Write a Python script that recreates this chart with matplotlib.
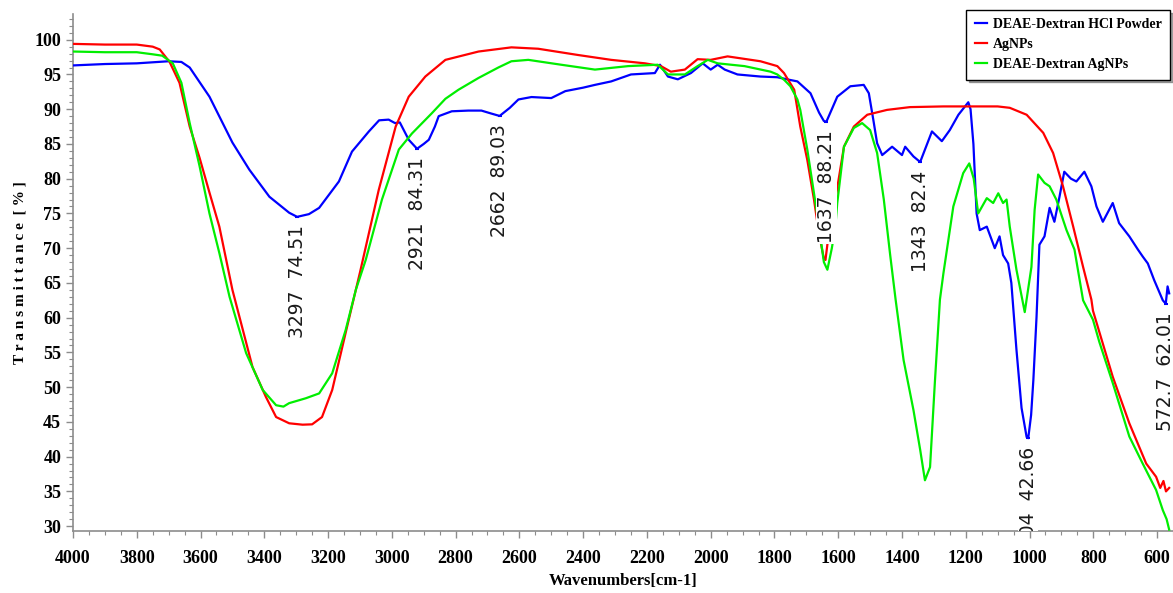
import matplotlib.pyplot as plt

# FTIR spectra (wavenumber cm-1, transmittance %)
blue_x = [4000, 3900, 3800, 3700, 3660, 3634, 3572, 3500, 3447, 3384, 3322, 3297, 3260, 3228,
          3166, 3125, 3072, 3040, 3010, 2990, 2975, 2947, 2921, 2900, 2884, 2865, 2853, 2812,
          2760, 2719, 2690, 2662, 2630, 2603, 2562, 2500, 2456, 2400, 2363, 2312, 2250, 2175,
          2159, 2134, 2103, 2062, 2025, 2000, 1978, 1956, 1916, 1844, 1791, 1750, 1728, 1687,
          1660, 1645, 1637, 1620, 1603, 1562, 1520, 1504, 1490, 1478, 1462, 1431, 1400, 1390,
          1364, 1343, 1306, 1275, 1250, 1223, 1192, 1185, 1176, 1166, 1156, 1134, 1109, 1094,
          1083, 1067, 1057, 1041, 1025, 1009, 1004, 995, 988, 978, 969, 953, 937, 922, 906,
          891, 870, 853, 828, 806, 790, 770, 739, 719, 687, 660, 645, 629, 609, 582, 572.7,
          567, 562]
blue_y = [96.3, 96.5, 96.6, 96.9, 96.8, 96.0, 91.8, 85.2, 81.3, 77.4, 75.1, 74.51, 74.9, 75.8,
          79.6, 83.9, 86.8, 88.4, 88.5, 88.0, 88.1, 85.6, 84.31, 85.0, 85.6, 87.5, 89.0, 89.7,
          89.8, 89.8, 89.4, 89.03, 90.2, 91.4, 91.75, 91.6, 92.6, 93.1, 93.5, 94.0, 95.0, 95.2,
          96.4, 94.7, 94.3, 95.2, 96.6, 95.7, 96.4, 95.7, 95.0, 94.7, 94.6, 94.2, 94.0, 92.3,
          89.5, 88.3, 88.21, 90.0, 91.8, 93.3, 93.5, 92.3, 88.5, 85.1, 83.4, 84.6, 83.4, 84.6,
          83.2, 82.4, 86.8, 85.4, 87.0, 89.2, 91.0, 90.0, 85.0, 75.0, 72.6, 73.1, 70.0, 71.7,
          69.0, 67.8, 65.0, 55.4, 47.0, 42.8, 42.66, 46.0, 51.0, 60.1, 70.5, 71.7, 75.8, 73.8,
          77.4, 81.0, 80.0, 79.6, 81.0, 78.9, 76.0, 73.8, 76.5, 73.6, 71.7, 69.8, 68.8, 67.8,
          65.4, 62.5, 62.01, 64.5, 63.5]

red_x = [4000, 3900, 3800, 3750, 3728, 3697, 3666, 3634, 3603, 3572, 3541, 3500, 3437, 3395,
         3363, 3322, 3280, 3250, 3219, 3187, 3145, 3113, 3100, 3041, 2988, 2947, 2895, 2832,
         2728, 2625, 2541, 2416, 2312, 2206, 2156, 2125, 2081, 2041, 2000, 1947, 1844, 1791,
         1770, 1738, 1719, 1697, 1676, 1660, 1645, 1640, 1630, 1609, 1582, 1551, 1509, 1447,
         1375, 1270, 1187, 1100, 1062, 1009, 957, 926, 895, 863, 832, 806, 801, 739, 687, 634,
         603, 590, 580, 572, 562]
red_y = [99.4, 99.3, 99.3, 99.0, 98.6, 96.8, 93.8, 87.5, 83.0, 78.0, 73.1, 64.0, 52.9, 48.6,
         45.7, 44.8, 44.6, 44.65, 45.7, 49.6, 57.8, 64.0, 66.5, 78.4, 87.5, 91.8, 94.7, 97.1,
         98.3, 98.9, 98.7, 97.8, 97.1, 96.6, 96.2, 95.4, 95.7, 97.2, 97.1, 97.6, 96.9, 96.2,
         95.2, 92.8, 87.5, 82.7, 77.0, 72.0, 68.5, 68.3, 72.0, 77.0, 84.6, 87.5, 89.2, 89.9,
         90.3, 90.4, 90.4, 90.4, 90.2, 89.2, 86.6, 83.7, 78.9, 73.1, 67.3, 62.6, 61.0, 51.5,
         44.8, 39.0, 37.1, 35.5, 36.5, 35.0, 35.5]

green_x = [4000, 3900, 3800, 3750, 3720, 3687, 3660, 3634, 3603, 3572, 3541, 3509, 3457, 3405,
           3363, 3340, 3322, 3270, 3228, 3187, 3145, 3113, 3082, 3031, 2978, 2937, 2875, 2832,
           2791, 2728, 2666, 2625, 2572, 2469, 2363, 2259, 2166, 2134, 2081, 2041, 2009, 1978,
           1894, 1812, 1791, 1769, 1750, 1728, 1719, 1697, 1676, 1660, 1645, 1634, 1620, 1609,
           1603, 1582, 1551, 1525, 1500, 1478, 1457, 1437, 1420, 1395, 1364, 1343, 1328, 1312,
           1297, 1281, 1270, 1239, 1208, 1189, 1175, 1161, 1134, 1114, 1098, 1083, 1072, 1062,
           1041, 1015, 994, 984, 973, 953, 937, 916, 884, 859, 832, 801, 781, 739, 687, 645,
           603, 582, 570, 562]
green_y = [98.3, 98.2, 98.2, 97.9, 97.7, 96.6, 93.8, 88.0, 81.8, 75.0, 69.3, 63.0, 54.9, 49.6,
           47.4, 47.2, 47.7, 48.4, 49.1, 52.0, 58.2, 64.0, 68.3, 77.0, 84.2, 86.5, 89.4, 91.5,
           92.8, 94.5, 96.0, 96.9, 97.1, 96.4, 95.7, 96.2, 96.4, 95.0, 95.0, 96.2, 97.1, 96.6,
           96.2, 95.4, 95.0, 94.2, 93.3, 91.4, 89.9, 84.2, 77.9, 73.0, 68.0, 66.9, 70.0, 73.1,
           76.5, 84.6, 87.3, 88.0, 87.0, 83.7, 77.0, 69.0, 62.6, 53.9, 46.7, 41.0, 36.6, 38.5,
           50.6, 62.6, 66.4, 76.0, 80.8, 82.2, 80.0, 75.0, 77.2, 76.5, 77.9, 76.5, 77.0, 73.1,
           66.9, 60.8, 67.3, 75.5, 80.6, 79.4, 78.9, 77.0, 72.6, 69.8, 62.5, 59.7, 56.5, 50.6,
           42.9, 39.0, 35.2, 32.3, 31.0, 29.5]

# labelled peaks of the DEAE-Dextran HCl powder spectrum
peak_x = [3297, 2921, 2662, 1637, 1343, 1004, 572.7]
peak_y = [74.51, 84.31, 89.03, 88.21, 82.4, 42.66, 62.01]

serif = 'Liberation Serif'

fig = plt.figure(figsize=(11.73, 5.93), dpi=100)
ax = fig.add_axes([73 / 1173, 62 / 593, 1100 / 1173, 517 / 593])

ax.plot(blue_x, blue_y, color='#0000ff', lw=1.6, label='DEAE-Dextran HCl Powder', zorder=3)
ax.plot(red_x, red_y, color='#ff0000', lw=1.6, label='AgNPs', zorder=3)
ax.plot(green_x, green_y, color='#00ee00', lw=1.6, label='DEAE-Dextran AgNPs', zorder=3)

# peak labels: small blue dash under the peak, rotated text with white background
ax.plot(peak_x, peak_y, linestyle='none', marker='_', color='#0000ff', ms=3, mew=1.5, zorder=4)
for px, py in zip(peak_x, peak_y):
    txt = ax.annotate(f'{px:g}  {py:g}', xy=(px, py), xytext=(0, -6),
                      textcoords='offset points', rotation=90, ha='center', va='top',
                      fontsize=13.5, family='DejaVu Sans', color='#1a1a1a',
                      annotation_clip=False, zorder=5,
                      bbox=dict(facecolor='white', edgecolor='none', pad=0.5))
    txt.set_clip_on(True)
    txt.set_clip_box(ax.bbox)

ax.set_xlim(4000, 562.5)
ax.set_ylim(29.3, 103.7)
ax.set_xticks(range(4000, 500, -200))
ax.set_xticks(range(4000, 500, -50), minor=True)
ax.set_yticks(range(30, 101, 5))
ax.set_yticks(range(30, 104), minor=True)

for side in ['top', 'right']:
    ax.spines[side].set_visible(False)
for side in ['left', 'bottom']:
    ax.spines[side].set_color('#8c8c8c')
    ax.spines[side].set_linewidth(1.2)
ax.tick_params(which='major', length=5, color='#8c8c8c', width=1)
ax.tick_params(which='minor', length=3, color='#8c8c8c', width=0.8)
ax.tick_params(axis='x', pad=9)
for lab in ax.get_xticklabels() + ax.get_yticklabels():
    lab.set_fontfamily(serif)
    lab.set_fontweight('bold')
    lab.set_fontsize(13)

ax.set_xlabel('Wavenumbers[cm-1]', family=serif, fontweight='bold', fontsize=12, labelpad=4)
ax.set_ylabel('T r a n s m i t t a n c e  [ % ]', family=serif, fontweight='bold',
              fontsize=11, labelpad=6)

leg = ax.legend(loc='upper right', bbox_to_anchor=(1170 / 1173, 1 - 10 / 593),
                bbox_transform=fig.transFigure, frameon=True, fancybox=False, shadow=True,
                framealpha=1, edgecolor='black', handlelength=0.9, handletextpad=0.4,
                borderpad=0.6, labelspacing=0.5, borderaxespad=0,
                prop={'family': serif, 'weight': 'bold', 'size': 10})
leg.get_frame().set_linewidth(1.0)
leg.set_zorder(10)

fig.savefig('out.png', dpi=100)
